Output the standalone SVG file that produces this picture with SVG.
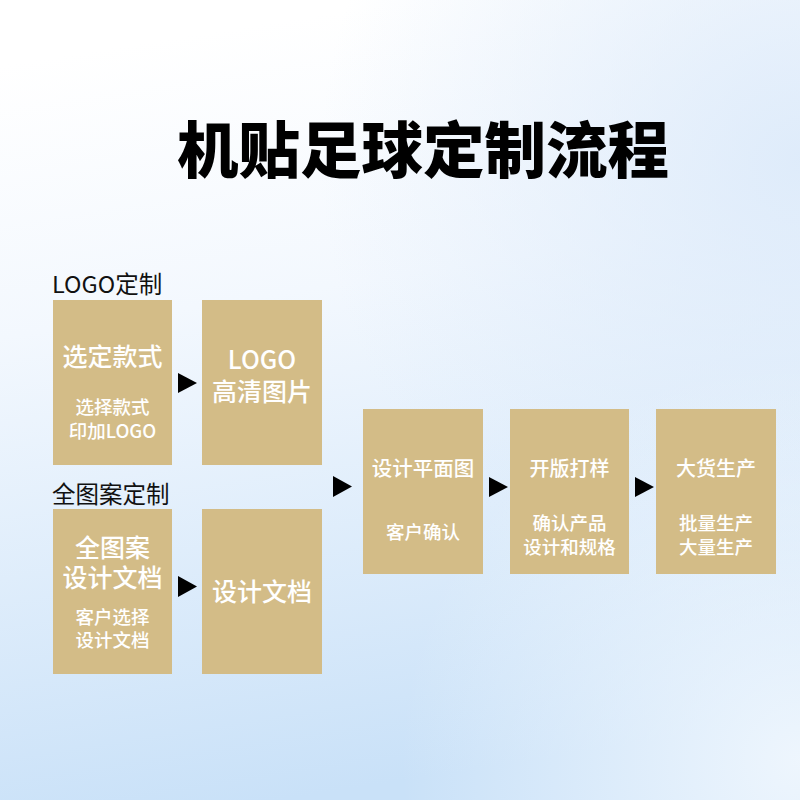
<svg xmlns="http://www.w3.org/2000/svg" width="800" height="800" viewBox="0 0 800 800">
<defs>
<linearGradient id="bg" x1="0.2" y1="0.05" x2="0.35" y2="1">
<stop offset="0" stop-color="#ffffff"/>
<stop offset="0.35" stop-color="#f3f8fe"/>
<stop offset="1" stop-color="#c9e1f8"/>
</linearGradient>
<radialGradient id="tr" cx="1" cy="0.2" r="0.6">
<stop offset="0" stop-color="#dceafa" stop-opacity="0.9"/>
<stop offset="1" stop-color="#dceafa" stop-opacity="0"/>
</radialGradient>
<radialGradient id="br" cx="1" cy="0.95" r="0.5">
<stop offset="0" stop-color="#f2f8fe" stop-opacity="0.9"/>
<stop offset="1" stop-color="#f2f8fe" stop-opacity="0"/>
</radialGradient>
<style>
.box{fill:#d3bc87;}
.t{font-family:"Noto Sans CJK SC","Noto Sans",sans-serif;fill:#ffffff;text-anchor:middle;font-weight:500;}
.lbl{font-family:"Noto Sans CJK SC","Noto Sans",sans-serif;fill:#111111;font-size:23.5px;}
.arr{fill:#000000;}
</style>
</defs>
<rect width="800" height="800" fill="url(#bg)"/>
<rect width="800" height="800" fill="url(#tr)"/>
<rect width="800" height="800" fill="url(#br)"/>
<text x="423" y="173" font-family="'Noto Sans CJK SC',sans-serif" font-size="61.5" font-weight="900" fill="#000" text-anchor="middle">机贴足球定制流程</text>
<text class="lbl" x="52" y="292.5">LOGO定制</text>
<text class="lbl" x="52" y="502.5">全图案定制</text>
<g id="n1"><rect class="box" x="53" y="300" width="119" height="165"/>
<text class="t" x="112.5" y="366" font-size="25">选定款式</text>
<text class="t" x="112.5" y="414" font-size="18.5">选择款式</text>
<text class="t" x="112.5" y="438" font-size="18.5">印加LOGO</text></g>
<g id="n2"><rect class="box" x="202" y="300" width="120" height="165"/>
<text class="t" x="262" y="369" font-size="25">LOGO</text>
<text class="t" x="262" y="401" font-size="25">高清图片</text></g>
<g id="n3"><rect class="box" x="53" y="509" width="119" height="165"/>
<text class="t" x="112.5" y="557" font-size="25">全图案</text>
<text class="t" x="112.5" y="587" font-size="25">设计文档</text>
<text class="t" x="112.5" y="624" font-size="18.5">客户选择</text>
<text class="t" x="112.5" y="647" font-size="18.5">设计文档</text></g>
<g id="n4"><rect class="box" x="202" y="509" width="120" height="165"/>
<text class="t" x="262" y="601" font-size="25">设计文档</text></g>
<g id="n5"><rect class="box" x="363" y="409" width="120" height="165"/>
<text class="t" x="423" y="476" font-size="20.5">设计平面图</text>
<text class="t" x="423" y="539" font-size="18.5">客户确认</text></g>
<g id="n6"><rect class="box" x="510" y="409" width="119" height="165"/>
<text class="t" x="569.5" y="476" font-size="20">开版打样</text>
<text class="t" x="569.5" y="530" font-size="18.5">确认产品</text>
<text class="t" x="569.5" y="554" font-size="18.5">设计和规格</text></g>
<g id="n7"><rect class="box" x="656" y="409" width="120" height="165"/>
<text class="t" x="716" y="476" font-size="20">大货生产</text>
<text class="t" x="716" y="530" font-size="18.5">批量生产</text>
<text class="t" x="716" y="554" font-size="18.5">大量生产</text></g>
<g id="connectors">
<polygon class="arr" points="178,373 197,383 178,393"/>
<polygon class="arr" points="178,576 197,586.5 178,597"/>
<polygon class="arr" points="333,476 352,486.5 333,497"/>
<polygon class="arr" points="489,477 508,487 489,497"/>
<polygon class="arr" points="635,477 654,487 635,497"/>
</g>
</svg>
